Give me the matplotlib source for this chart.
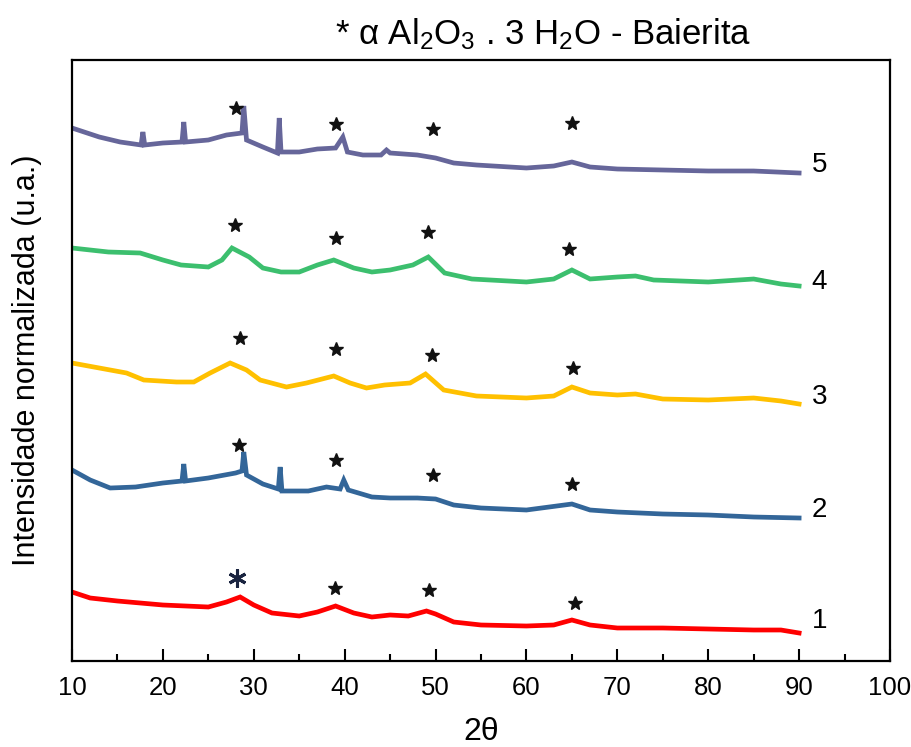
import matplotlib
matplotlib.use("Agg")
import matplotlib.pyplot as plt
from matplotlib.ticker import MultipleLocator

plt.rcParams['font.family'] = ['Liberation Sans', 'DejaVu Sans']
plt.rcParams['mathtext.fontset'] = 'custom'
plt.rcParams['mathtext.rm'] = 'Liberation Sans'
plt.rcParams['mathtext.it'] = 'Liberation Sans:italic'

# curves (intensity, already offset, arbitrary units)
x1 = [10, 12, 15, 20, 25, 27, 28.5, 30, 32, 35, 37, 39, 41, 43, 45, 47, 49, 50, 52, 55,
      60, 63, 65, 67, 70, 75, 80, 85, 88, 90]
y1 = [69, 63, 60, 56, 54, 59, 64, 56, 48, 45, 49, 55, 48, 44, 46, 45, 50, 47, 39, 36,
      35, 36, 41, 36, 33, 33, 32, 31, 31, 28]

x2 = [10, 12, 14.2, 17, 20, 22.1, 22.3, 22.5, 25, 28, 28.7, 28.9, 29.2, 31, 32.7, 32.9,
      33.1, 36, 38, 39.5, 39.9, 40.4, 43, 45, 48, 50, 52, 55, 60, 65, 67, 70, 75, 80, 85, 90]
y2 = [191, 181, 173, 174, 178, 180, 197, 180, 183, 188, 190, 209, 186, 177, 172, 194,
      170, 170, 174, 172, 181, 171, 164, 163, 163, 162, 156, 153, 151, 157, 151, 149,
      147, 146, 144, 143]

x3 = [10, 14.2, 16, 17.9, 21.5, 23.4, 25.2, 27.4, 29.2, 30.7, 33.6, 35.8, 38.8, 40.6,
      42.4, 44.4, 47.2, 48.9, 50.9, 54.5, 60, 63, 65, 67, 70, 72, 75, 80, 85, 88, 90]
y3 = [298, 291, 288, 281, 279, 279, 288, 298, 291, 281, 274, 278, 285, 278, 273, 276,
      278, 287, 271, 265, 263, 265, 274, 268, 266, 267, 262, 261, 263, 260, 257]

x4 = [10, 14, 17.5, 20, 22, 25, 26.5, 27.6, 29.5, 31, 33, 35, 37, 38.8, 41, 43, 45,
      47.5, 49.2, 51, 54, 60, 63, 65, 67, 70, 72, 74, 80, 85, 88, 90]
y4 = [413, 409, 408, 401, 396, 394, 401, 413, 404, 393, 389, 389, 396, 401, 393, 389,
      391, 396, 404, 388, 382, 379, 382, 391, 382, 384, 385, 381, 379, 382, 377, 375]

x5 = [10, 13, 15.3, 17.6, 17.8, 18, 20, 22.1, 22.3, 22.5, 25, 27, 28.7, 28.9, 29.2, 31,
      32.6, 32.8, 33.0, 35, 37, 39, 39.8, 40.3, 42, 44, 44.6, 45, 48, 50, 52, 54.5,
      60, 63, 65, 67, 70, 75, 80, 85, 90]
y5 = [533, 524, 519, 516, 529, 516, 518, 519, 539, 519, 521, 526, 528, 555, 521, 514,
      508, 543, 509, 509, 512, 513, 524, 509, 506, 506, 511, 508, 506, 503, 498, 496,
      493, 495, 499, 494, 492, 491, 490, 490, 488]

curves = [(x1, y1), (x2, y2), (x3, y3), (x4, y4), (x5, y5)]
colors = ['#ff0000', '#336699', '#ffc000', '#3cbf6e', '#66669a']
labels = ['1', '2', '3', '4', '5']
label_y = [40, 151, 264, 379, 496]

# asterisk positions (2theta, height)
star_x = [[38.9, 49.3, 65.3], [28.4, 39.0, 49.7, 65.0], [28.5, 39.0, 49.6, 65.1],
          [27.9, 39.0, 49.2, 64.7], [28.0, 39.1, 49.7, 65.0]]
star_y = [[73, 71, 58], [216, 201, 186, 177], [323, 312, 306, 293],
          [436, 423, 429, 412], [553, 537, 532, 538]]
big_star_x = 28.2
big_star_y = 83

fig = plt.figure(figsize=(9.12, 7.47), dpi=100)
ax = fig.add_axes([72 / 912, 86 / 747, 818 / 912, 601 / 747])

for (xs, ys), c in zip(curves, colors):
    ax.plot(xs, ys, color=c, linewidth=3.4, solid_joinstyle='miter')

for sx, sy in zip(star_x, star_y):
    ax.plot(sx, sy, linestyle='none', marker='*', markersize=10, color='#111111')
ax.plot([big_star_x], [big_star_y], linestyle='none', marker=(6, 2, 0), markersize=13,
        markeredgewidth=2.2, color='#1a2440')

for lab, ly in zip(labels, label_y):
    ax.text(91.4, ly, lab, fontsize=20, ha='left', va='center')

ax.set_xlim(10, 100)
ax.set_ylim(0, 601)
ax.xaxis.set_major_locator(MultipleLocator(10))
ax.xaxis.set_minor_locator(MultipleLocator(5))
ax.tick_params(axis='x', which='major', direction='in', length=9, width=1.5,
               labelsize=18.5, pad=11, top=False)
ax.tick_params(axis='x', which='minor', direction='in', length=5, width=1.5, top=False)
ax.set_yticks([])
for sp in ax.spines.values():
    sp.set_linewidth(1.6)

ax.set_xlabel('2θ', fontsize=23, labelpad=12)
ax.set_ylabel('Intensidade normalizada (u.a.)', fontsize=22)
ax.yaxis.set_label_coords(-0.037, 0.5)

fig.text(543 / 912, 713 / 747, r'* α Al$_2$O$_3$ . 3 H$_2$O - Baierita', fontsize=25,
         ha='center', va='center')

fig.savefig('out.png', dpi=100)
